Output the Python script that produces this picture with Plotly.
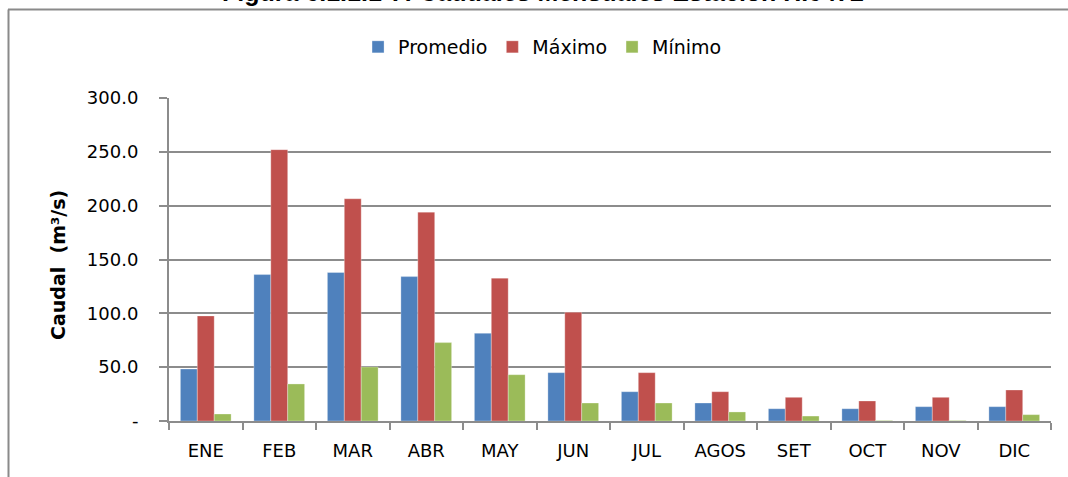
import plotly.graph_objects as go

months = ["ENE", "FEB", "MAR", "ABR", "MAY", "JUN", "JUL", "AGOS", "SET", "OCT", "NOV", "DIC"]
promedio = [48.3, 136.0, 137.9, 134.1, 81.5, 44.9, 27.2, 16.7, 11.4, 11.4, 13.3, 13.3]
maximo = [97.6, 252.0, 206.4, 194.0, 132.7, 101.0, 44.9, 27.2, 22.0, 18.6, 22.0, 28.8]
minimo = [6.5, 34.4, 50.2, 72.8, 43.0, 16.7, 16.7, 8.4, 4.6, 0.5, 0.5, 5.9]
ytick_vals = [0, 50, 100, 150, 200, 250, 300]
ytick_text = ["-", "50.0", "100.0", "150.0", "200.0", "250.0", "300.0"]

W, H = 1068, 477
L, R, T, B = 169, 17, 98, 56
pw, ph = W - L - R, H - T - B

def px_x(x):
    return (x - L) / pw

def px_y(y):
    return (H - B - y) / ph

FONT = "DejaVu Sans, Calibri, sans-serif"
grid = "#8c8c8c"

fig = go.Figure()
for name, vals, col in [("Promedio", promedio, "#4F81BD"),
                        ("Máximo", maximo, "#C0504D"),
                        ("Mínimo", minimo, "#9BBB59")]:
    fig.add_trace(go.Bar(x=months, y=vals, name=name,
                         marker=dict(color=col, line=dict(color="rgba(255,255,255,0.5)", width=0.6))))

fig.update_layout(
    width=W, height=H,
    margin=dict(l=L, r=R, t=T, b=B, autoexpand=False),
    paper_bgcolor="white", plot_bgcolor="white",
    barmode="group", bargap=0.31, bargroupgap=0,
    font=dict(family=FONT, size=18, color="black"),
    showlegend=True,
    legend=dict(orientation="h", x=0.508, xanchor="center", xref="container",
                y=px_y(47), yanchor="middle", font=dict(size=19),
                itemwidth=30, traceorder="normal", itemclick=False, tracegroupgap=0),
    xaxis=dict(type="category", showgrid=False, showline=True, linecolor=grid, linewidth=2,
               ticks="outside", tickson="boundaries", ticklen=7, tickcolor=grid, tickwidth=2,
               tickfont=dict(size=18), ticklabelstandoff=12, fixedrange=True),
    yaxis=dict(range=[0, 300], tickvals=ytick_vals, ticktext=ytick_text,
               showgrid=True, gridcolor=grid, gridwidth=2, zeroline=False,
               showline=True, linecolor=grid, linewidth=2,
               ticks="outside", ticklen=8, tickcolor=grid, tickwidth=2,
               tickfont=dict(size=18), ticklabelstandoff=17, fixedrange=True),
)

# y-axis title
fig.add_annotation(text="<b>Caudal  (m³/s)</b>", textangle=-90, xref="paper", yref="paper",
                   x=px_x(58), y=px_y(265), xanchor="center", yanchor="middle", showarrow=False,
                   font=dict(family="DejaVu Sans, sans-serif", size=19, color="black"))

# clipped figure caption at top
fig.add_annotation(text="<b>Figura 6.1.1.1-7: Caudales Mensuales Estación H.0472</b>",
                   xref="paper", yref="paper", x=px_x(543), y=px_y(8.5), xanchor="center",
                   yanchor="bottom", showarrow=False,
                   font=dict(family="Liberation Sans, Arial, sans-serif", size=25, color="black"))

# outer frame lines
fig.add_shape(type="line", xref="paper", yref="paper", x0=px_x(8), x1=px_x(1075),
              y0=px_y(9.5), y1=px_y(9.5), line=dict(color="#8a8a8a", width=2))
fig.add_shape(type="line", xref="paper", yref="paper", x0=px_x(8.5), x1=px_x(8.5),
              y0=px_y(9.5), y1=px_y(480), line=dict(color="#8a8a8a", width=2))

fig.write_html("out.html", config={"displayModeBar": False},
               post_script="document.body.style.margin='0';document.body.style.padding='0';document.body.style.overflow='hidden';")
